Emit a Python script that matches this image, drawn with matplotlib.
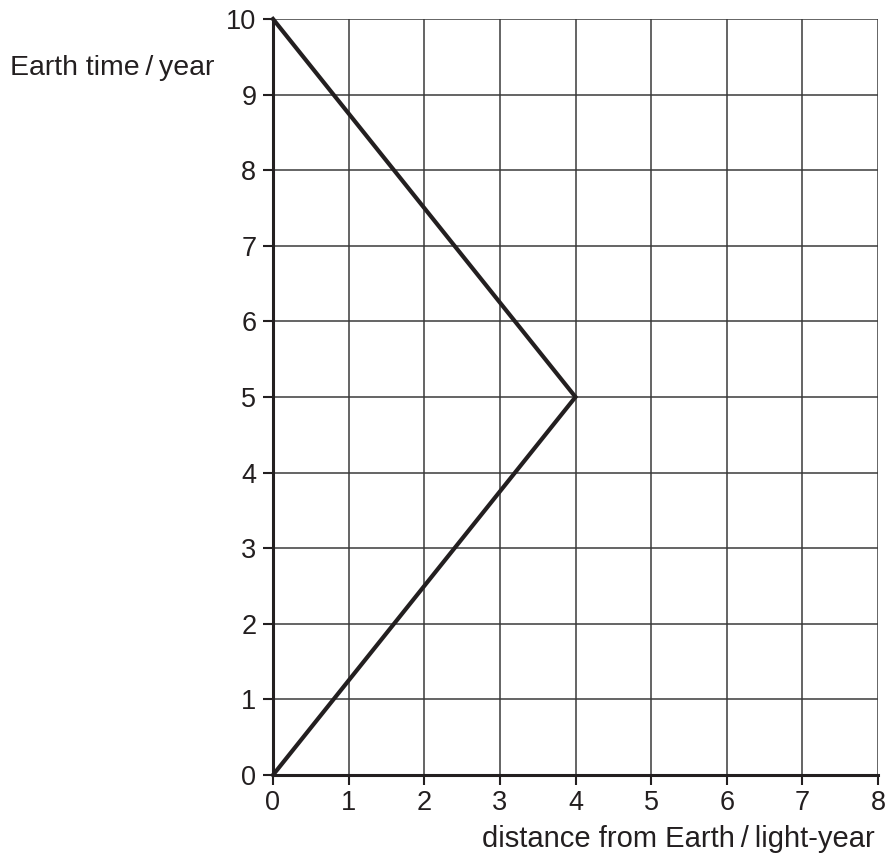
import numpy as np
import matplotlib
matplotlib.use("Agg")
import matplotlib.pyplot as plt

# path of the journey: distance (light-year) vs Earth time (year)
distance = [0, 4, 0]
earth_time = [0, 5, 10]

x_ticks = list(range(0, 9))
y_ticks = list(range(0, 11))

plt.rcParams["font.family"] = ["Liberation Sans", "DejaVu Sans"]

fig = plt.figure(figsize=(8.89, 8.55), dpi=100)
ax = fig.add_axes([273 / 889, 1 - 775 / 855, (878 - 273) / 889, (775 - 19) / 855])

ax.set_xlim(0, 8)
ax.set_ylim(0, 10)
ax.set_xticks(x_ticks)
ax.set_yticks(y_ticks)

ax.grid(True, color="#3a3a3a", linewidth=1.1, zorder=1)
ax.plot(distance, earth_time, color="#231f20", linewidth=3.0,
        solid_joinstyle="miter", zorder=3, clip_on=False)

for side in ["top", "right"]:
    ax.spines[side].set_visible(False)
for side in ["left", "bottom"]:
    ax.spines[side].set_linewidth(2.2)
    ax.spines[side].set_color("#231f20")
    ax.spines[side].set_zorder(4)

ax.tick_params(axis="both", direction="out", length=7, width=1.5,
               colors="#231f20", labelsize=19.5)
ax.tick_params(axis="x", pad=4)
ax.tick_params(axis="y", pad=5)

fig.text(10 / 889, 1 - 75 / 855, "Earth time\u2009/\u2009year", fontsize=20.5,
         ha="left", va="baseline", color="#231f20")
fig.text(875 / 889, 1 - 847 / 855, "distance from Earth\u2009/\u2009light-year",
         fontsize=21, ha="right", va="baseline", color="#231f20")

plt.savefig("out.png", dpi=100)
plt.close(fig)
